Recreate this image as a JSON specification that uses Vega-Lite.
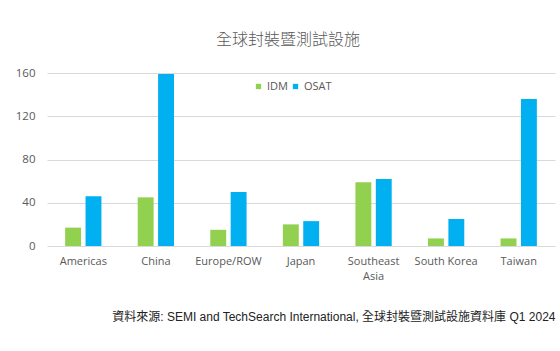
{
  "$schema": "https://vega.github.io/schema/vega-lite/v6.json",
  "width": 508,
  "height": 173,
  "autosize": "none",
  "padding": {"left": 47, "top": 73, "right": 5, "bottom": 105},
  "background": "white",
  "title": {
    "text": "全球封裝暨測試設施",
    "font": "Noto Sans CJK TC",
    "fontSize": 16,
    "fontWeight": 300,
    "color": "#595959",
    "anchor": "middle",
    "dx": -13,
    "offset": 19
  },
  "data": {
    "values": [
      {"region": "Americas", "type": "IDM", "count": 17},
      {"region": "Americas", "type": "OSAT", "count": 46},
      {"region": "China", "type": "IDM", "count": 45},
      {"region": "China", "type": "OSAT", "count": 159},
      {"region": "Europe/ROW", "type": "IDM", "count": 15},
      {"region": "Europe/ROW", "type": "OSAT", "count": 50},
      {"region": "Japan", "type": "IDM", "count": 20},
      {"region": "Japan", "type": "OSAT", "count": 23},
      {"region": "Southeast Asia", "type": "IDM", "count": 59},
      {"region": "Southeast Asia", "type": "OSAT", "count": 62},
      {"region": "South Korea", "type": "IDM", "count": 7},
      {"region": "South Korea", "type": "OSAT", "count": 25},
      {"region": "Taiwan", "type": "IDM", "count": 7},
      {"region": "Taiwan", "type": "OSAT", "count": 136}
    ]
  },
  "mark": {"type": "bar"},
  "encoding": {
    "x": {
      "field": "region",
      "type": "nominal",
      "sort": null,
      "scale": {"paddingInner": 0.5, "paddingOuter": 0.25},
      "axis": {
        "title": "資料來源: SEMI and TechSearch International, 全球封裝暨測試設施資料庫 Q1 2024",
        "titleFont": "Liberation Sans, Noto Sans CJK TC",
        "titleFontSize": 12,
        "titleFontWeight": "normal",
        "titleColor": "#222222",
        "titleAnchor": "end",
        "titleAlign": "right",
        "titleBaseline": "alphabetic",
        "titleY": 74,
        "labelAngle": 0,
        "labelFont": "Open Sans",
        "labelFontSize": 11,
        "labelColor": "#595959",
        "labelPadding": 9,
        "labelLineHeight": 15,
        "labelExpr": "datum.value == 'Southeast Asia' ? ['Southeast', 'Asia'] : datum.value",
        "ticks": false,
        "domain": false,
        "grid": false
      }
    },
    "xOffset": {"field": "type", "type": "nominal", "scale": {"paddingInner": 0.22}},
    "y": {
      "field": "count",
      "type": "quantitative",
      "scale": {"domain": [0, 160]},
      "axis": {
        "title": null,
        "values": [0, 40, 80, 120, 160],
        "labelFont": "Open Sans",
        "labelFontSize": 11.5,
        "labelColor": "#595959",
        "labelPadding": 12,
        "ticks": false,
        "domain": false,
        "gridColor": "#d9d9d9",
        "gridWidth": 1
      }
    },
    "color": {
      "field": "type",
      "type": "nominal",
      "scale": {"domain": ["IDM", "OSAT"], "range": ["#92D050", "#00B0F0"]},
      "legend": {
        "title": null,
        "orient": "none",
        "direction": "horizontal",
        "legendX": 206,
        "legendY": 8,
        "symbolType": "square",
        "symbolSize": 28,
        "symbolStrokeWidth": 0,
        "labelFont": "Open Sans",
        "labelFontSize": 11,
        "labelColor": "#595959",
        "labelOffset": 3,
        "columnPadding": 2,
        "gridAlign": "none"
      }
    }
  },
  "config": {"view": {"stroke": null}}
}
